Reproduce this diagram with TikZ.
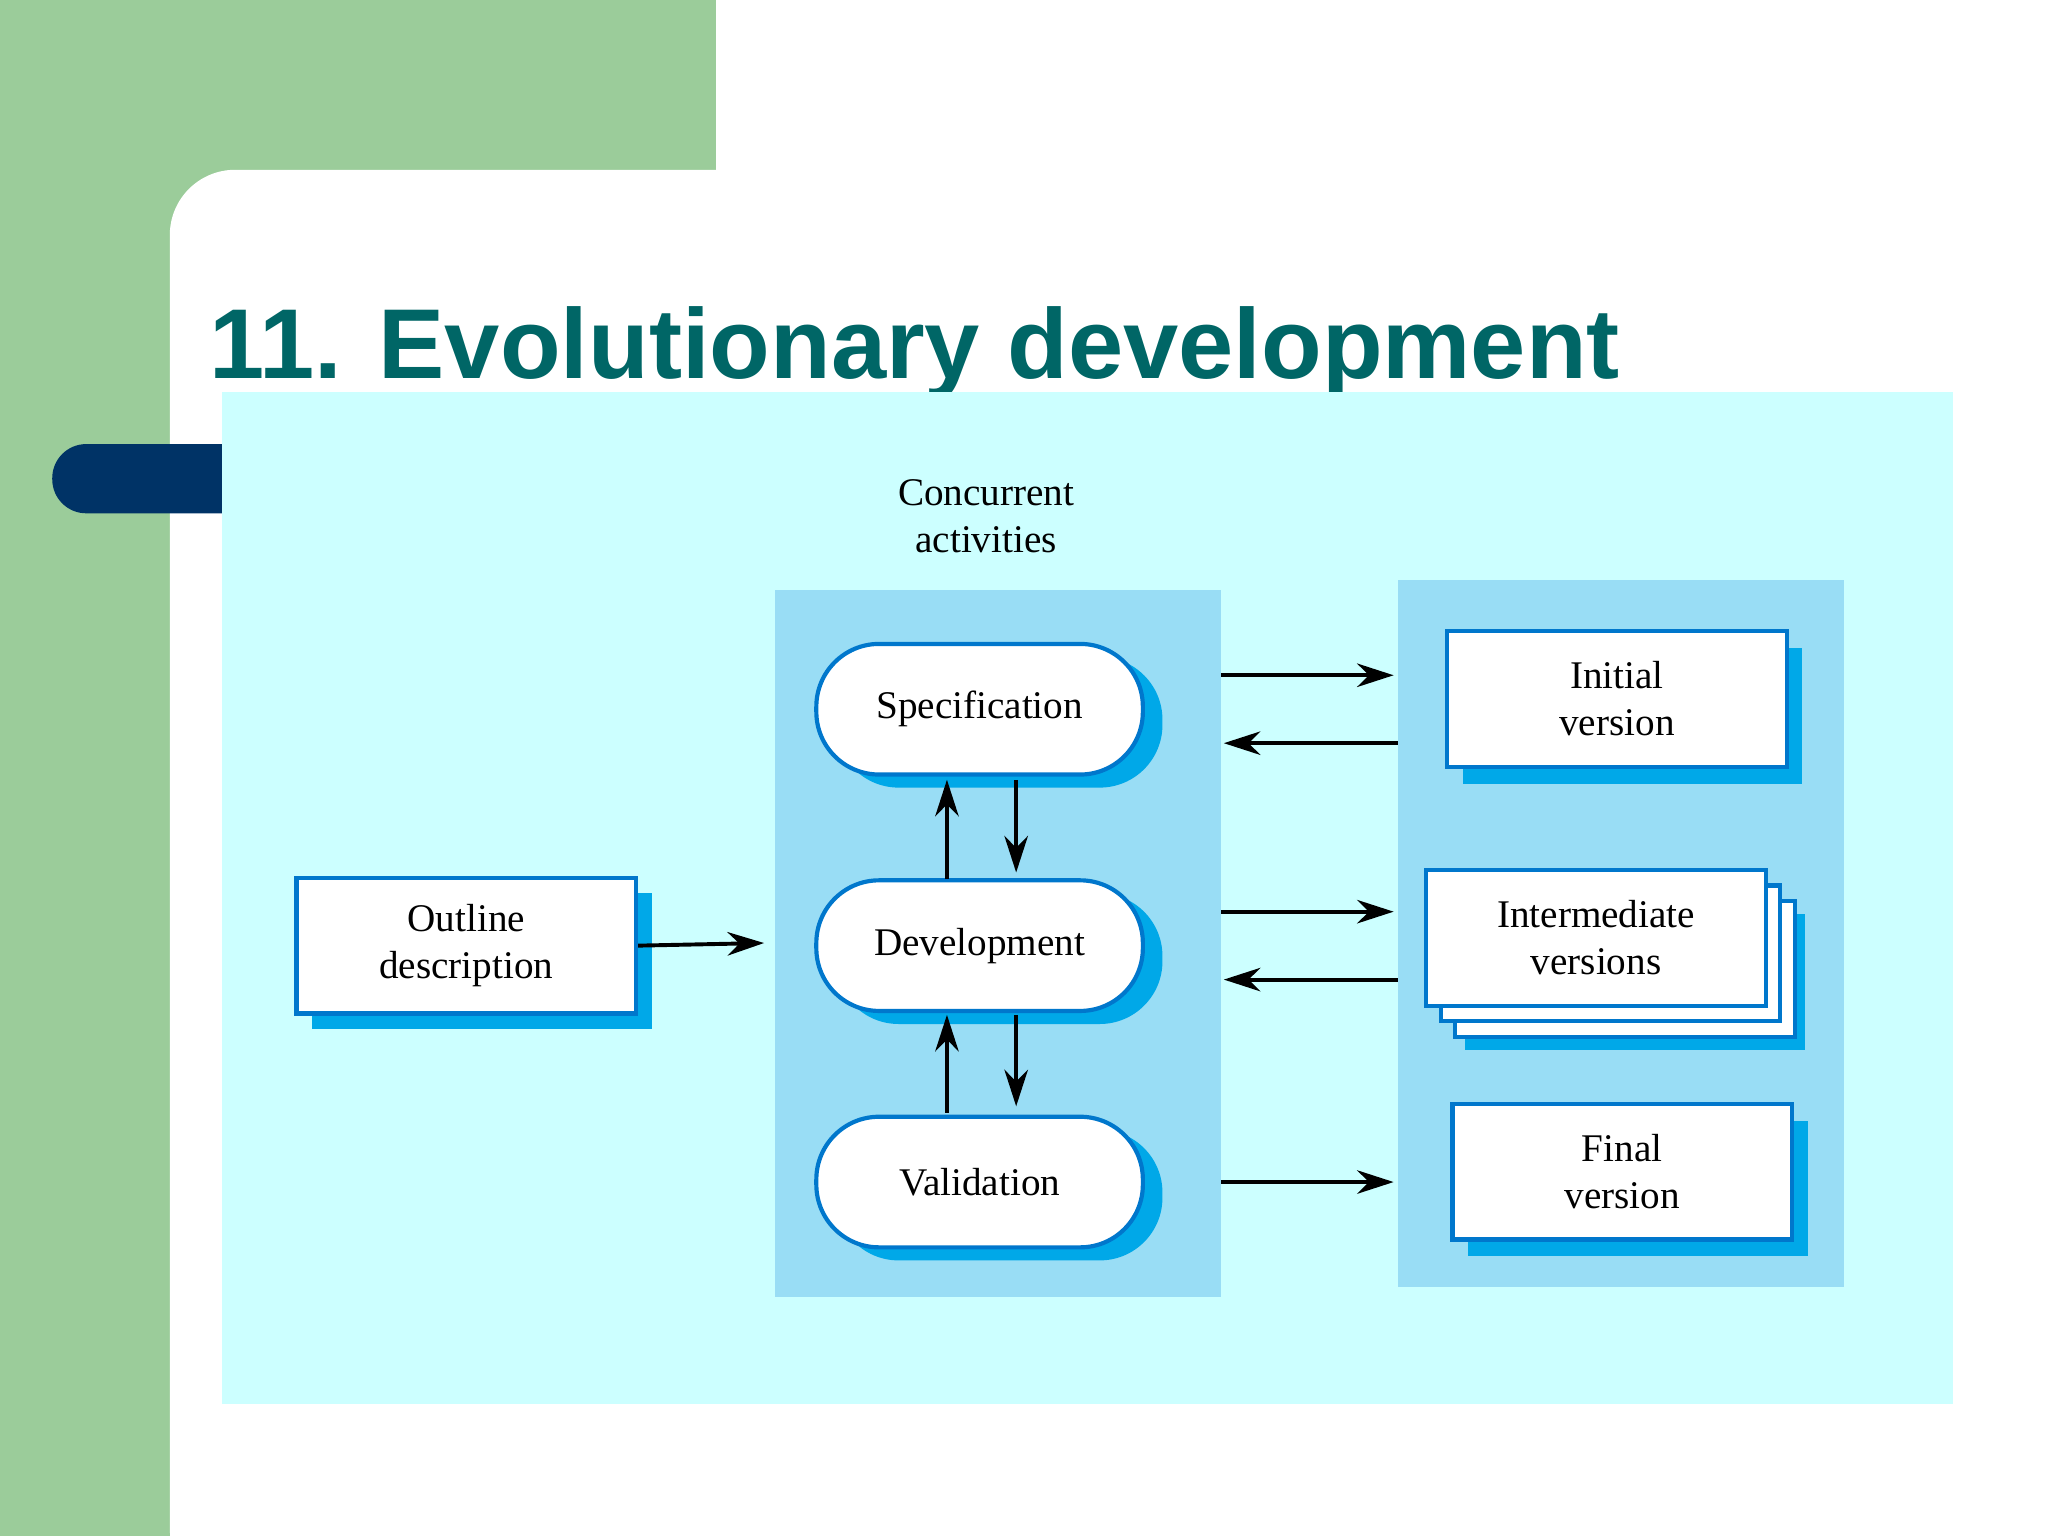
\documentclass[tikz,border=0pt]{standalone}
\usepackage{fontspec}
\setmainfont{Liberation Serif}
\newfontfamily\titlefont{Liberation Sans}
\usetikzlibrary{arrows.meta}
\definecolor{sgreen}{HTML}{9BCC9A}
\definecolor{navy}{HTML}{003366}
\definecolor{teal2}{HTML}{006666}
\definecolor{cyanbg}{HTML}{CCFFFF}
\definecolor{panel}{HTML}{99DDF5}
\definecolor{shad}{HTML}{00A8E8}
\definecolor{bord}{HTML}{0077CC}
\tikzset{
 pill/.style={draw=bord,line width=1.6pt,fill=white,rounded corners=24pt,minimum width=125pt,minimum height=50pt,font=\fontsize{15}{18}\selectfont,align=center},
 pillshadow/.style={fill=shad,rounded corners=24pt,minimum width=125pt,minimum height=50pt},
 doc/.style={draw=bord,line width=1.6pt,fill=white,minimum width=130pt,minimum height=52pt,font=\fontsize{15}{18}\selectfont,align=center},
 docshadow/.style={fill=shad,minimum width=130pt,minimum height=52pt},
 arr/.style={line width=1.5pt,-{Stealth[length=14pt,width=9pt]}}
}
\begin{document}
\begin{tikzpicture}[x=0.5pt,y=-0.5pt]
\useasboundingbox (0,0) rectangle (1568,1176);
\fill[sgreen] (0,0) rectangle (548,1176);
\fill[white] (548,0) rectangle (1568,130);
\fill[white,rounded corners=25pt] (130,130) rectangle (1600,1220);
\fill[navy,rounded corners=13pt] (40,340) rectangle (200,393);
\node[anchor=base west,inner sep=0,text=teal2,font=\titlefont\bfseries\fontsize{38}{44}\selectfont] (title) at (160,290) {11. Evolutionary development};
\fill[cyanbg] (170,300) rectangle (1495,1075);
\fill[panel] (593,452) rectangle (935,993);
\fill[panel] (1070,444) rectangle (1412,985);
\node[align=center,font=\fontsize{15}{18}\selectfont] (conc) at (755,395) {Concurrent\\activities};
% pills
\node[pillshadow] at (765,553) {};
\node[pill] (spec) at (750,543) {Specification};
\node[pillshadow] at (765,734) {};
\node[pill] (dev) at (750,724) {Development};
\node[pillshadow] at (765,915) {};
\node[pill] (val) at (750,905) {Validation};
% docs
\node[docshadow] at (369,736) {};
\node[doc] (out) at (357,724) {Outline\\description};
\node[docshadow] at (1250,548) {};
\node[doc] (init) at (1238,535) {Initial\\version};
\node[docshadow] at (1252,752) {};
\node[doc,draw=bord] at (1244,742) {};
\node[doc,draw=bord] at (1233,730) {};
\node[doc] (inter) at (1222,718) {Intermediate\\versions};
\node[docshadow] at (1254,910) {};
\node[doc] (fin) at (1242,897) {Final\\version};
% arrows
\draw[arr] (out.east) -- (585,722);
\draw[arr] (725,673) -- (725,597);
\draw[arr] (778,597) -- (778,668);
\draw[arr] (725,852) -- (725,777);
\draw[arr] (778,777) -- (778,847);
\draw[arr] (935,517) -- (1067,517);
\draw[arr] (1070,569) -- (937,569);
\draw[arr] (935,698) -- (1067,698);
\draw[arr] (1070,750) -- (937,750);
\draw[arr] (935,905) -- (1067,905);
\end{tikzpicture}
\end{document}
